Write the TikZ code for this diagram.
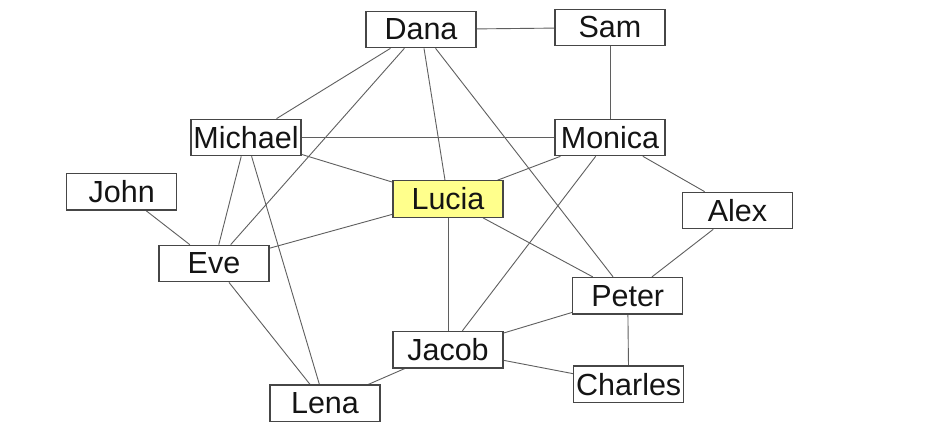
\documentclass[tikz,border=0pt]{standalone}
\usepackage{fontspec}
\setmainfont{Liberation Sans}
\usetikzlibrary{backgrounds}
\definecolor{edgecol}{RGB}{95,95,95}
\definecolor{boxcol}{RGB}{70,70,70}
\definecolor{textcol}{RGB}{20,20,20}
\definecolor{luciafill}{RGB}{255,255,140}
\tikzset{
  person/.style={draw=boxcol, line width=1.2pt, fill=white, minimum width=110pt, minimum height=36.5pt,
    inner sep=0pt, text=textcol, font=\fontsize{30.5}{31}\selectfont},
  hilite/.style={person, fill=luciafill},
  link/.style={draw=edgecol, line width=0.9pt}
}
\begin{document}
\begin{tikzpicture}[x=1pt,y=-1pt]
\useasboundingbox (0,0) rectangle (939,433);
\node[person] (dana) at (421,29.5) {Dana};
\node[person] (sam) at (610,27.5) {Sam};
\node[person] (michael) at (246,137.5) {Michael};
\node[person] (monica) at (610,137.5) {Monica};
\node[person] (john) at (121.7,191.7) {John};
\node[hilite] (lucia) at (448,199) {Lucia};
\node[person] (alex) at (737.5,210.5) {Alex};
\node[person] (eve) at (214,263.5) {Eve};
\node[person] (peter) at (627.7,295.7) {Peter};
\node[person] (jacob) at (448,349.7) {Jacob};
\node[person] (charles) at (628.7,384.3) {Charles};
\node[person] (lena) at (325,403.3) {Lena};
\begin{scope}[on background layer]
\fill[white] (0,0) rectangle (939,433);
\draw[link] (dana) -- (sam);
\draw[link] (sam) -- (monica);
\draw[link] (dana) -- (michael);
\draw[link] (dana) -- (eve);
\draw[link] (dana) -- (lucia);
\draw[link] (dana) -- (peter);
\draw[link] (michael) -- (monica);
\draw[link] (michael) -- (lucia);
\draw[link] (michael) -- (eve);
\draw[link] (michael) -- (lena);
\draw[link] (monica) -- (lucia);
\draw[link] (monica) -- (jacob);
\draw[link] (monica) -- (alex);
\draw[link] (john) -- (eve);
\draw[link] (eve) -- (lucia);
\draw[link] (eve) -- (lena);
\draw[link] (lucia) -- (jacob);
\draw[link] (lucia) -- (peter);
\draw[link] (alex) -- (peter);
\draw[link] (peter) -- (jacob);
\draw[link] (peter) -- (charles);
\draw[link] (jacob) -- (charles);
\draw[link] (jacob) -- (lena);
\end{scope}
\end{tikzpicture}
\end{document}
